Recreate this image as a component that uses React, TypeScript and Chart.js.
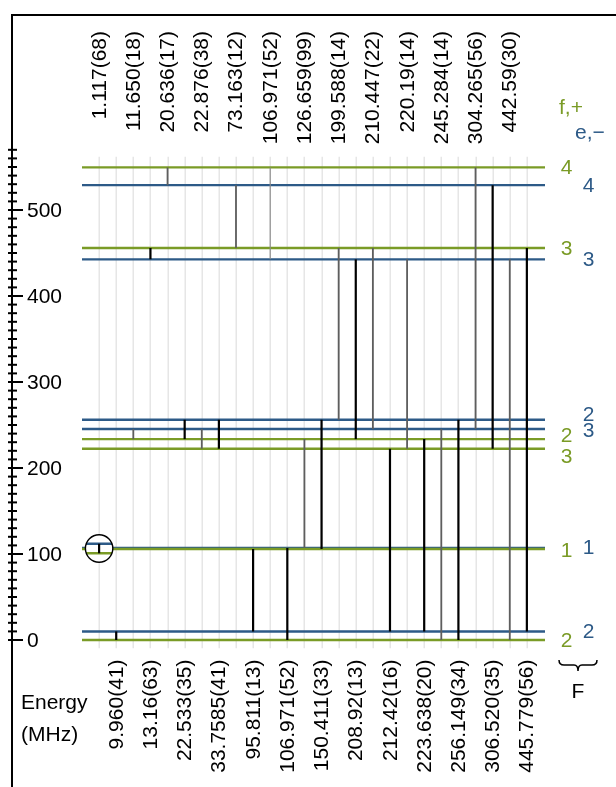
import React, { useEffect, useRef } from "react";
import { Chart, registerables } from "chart.js";

Chart.register(...registerables);

// ---------- data ----------
// f,+ parity levels (energy in MHz) and their F quantum numbers
const fEnergies = [0, 105.854, 222.38, 233.598, 455.737, 549.549];
const fLabels = ["2", "1", "3", "2", "3", "4"];
// e,− parity levels
const eEnergies = [9.96, 106.971, 245.284, 256.149, 442.59, 528.9];
const eLabels = ["2", "1", "3", "2", "3", "4"];

// transitions labelled at the top (even columns): indices into fEnergies / eEnergies
const topLabels = [
  "1.117(68)", "11.650(18)", "20.636(17)", "22.876(38)", "73.163(12)", "106.971(52)",
  "126.659(99)", "199.588(14)", "210.447(22)", "220.19(14)", "245.284(14)", "304.265(56)", "442.59(30)",
];
const topF = [1, 3, 5, 2, 4, 5, 3, 4, 4, 2, 0, 5, 0];
const topE = [1, 2, 5, 2, 5, 4, 1, 3, 2, 4, 2, 2, 4];

// transitions labelled at the bottom (odd columns)
const bottomLabels = [
  "9.960(41)", "13.16(63)", "22.533(35)", "33.7585(41)", "95.811(13)", "106.971(52)",
  "150.411(33)", "208.92(13)", "212.42(16)", "223.638(20)", "256.149(34)", "306.520(35)", "445.779(56)",
];
const bottomF = [0, 4, 3, 2, 1, 0, 1, 3, 2, 3, 0, 2, 4];
const bottomE = [0, 4, 3, 3, 0, 1, 3, 4, 0, 0, 3, 5, 0];

const yTickMin = 0;
const yTickMax = 570;
const yTickStep = 10;
const yLabelStep = 100;

// ---------- style ----------
const GREEN = "#7a9b26";
const BLUE = "#2d5a87";
const FONT = '"Liberation Sans", Arial, Helvetica, sans-serif';
const FS = 21;
const X_MIN = -1;
const X_MAX = 26.06;

export default function App() {
  const ref = useRef<HTMLCanvasElement>(null);

  useEffect(() => {
    const canvas = ref.current;
    if (!canvas) return;

    const datasets: any[] = [];
    fEnergies.forEach((E) =>
      datasets.push({
        data: [{ x: X_MIN, y: E }, { x: X_MAX, y: E }],
        borderColor: GREEN,
        borderWidth: 2.4,
        order: 3,
        clip: false,
      })
    );
    eEnergies.forEach((E) =>
      datasets.push({
        data: [{ x: X_MIN, y: E }, { x: X_MAX, y: E }],
        borderColor: BLUE,
        borderWidth: 2.4,
        order: 3,
        clip: false,
      })
    );
    topLabels.forEach((_, k) => {
      const light = k === 5;
      datasets.push({
        data: [
          { x: 2 * k, y: fEnergies[topF[k]] },
          { x: 2 * k, y: eEnergies[topE[k]] },
        ],
        borderColor: light ? "#8a8a8a" : "#5e5e5e",
        borderWidth: light ? 1.1 : 1.8,
        order: 2,
        clip: false,
      });
    });
    bottomLabels.forEach((_, k) => {
      datasets.push({
        data: [
          { x: 2 * k + 1, y: fEnergies[bottomF[k]] },
          { x: 2 * k + 1, y: eEnergies[bottomE[k]] },
        ],
        borderColor: "#000000",
        borderWidth: 2.2,
        order: 1,
        clip: false,
      });
    });

    const vtext = (ctx: CanvasRenderingContext2D, s: string, x: number, y: number) => {
      ctx.save();
      ctx.translate(x, y);
      ctx.rotate(-Math.PI / 2);
      ctx.textAlign = "right";
      ctx.textBaseline = "middle";
      ctx.fillText(s, 0, 0);
      ctx.restore();
    };

    const plugin = {
      id: "diagram",
      beforeDatasetsDraw(chart: any) {
        const ctx = chart.ctx as CanvasRenderingContext2D;
        const xs = chart.scales.x;
        const ys = chart.scales.y;
        ctx.save();
        ctx.strokeStyle = "#e6e6e6";
        ctx.lineWidth = 1.5;
        for (let i = 0; i < topLabels.length + bottomLabels.length; i++) {
          const x = Math.round(xs.getPixelForValue(i)) + 0.25;
          ctx.beginPath();
          ctx.moveTo(x, ys.getPixelForValue(562));
          ctx.lineTo(x, ys.getPixelForValue(-9.5));
          ctx.stroke();
        }
        ctx.restore();
      },
      afterDatasetsDraw(chart: any) {
        const ctx = chart.ctx as CanvasRenderingContext2D;
        const xs = chart.scales.x;
        const ys = chart.scales.y;
        ctx.save();

        // ---- magnified inset around the 1.117 MHz splitting ----
        const cx = xs.getPixelForValue(0);
        const fE = fEnergies[topF[0]];
        const eE = eEnergies[topE[0]];
        const Ec = (fE + eE) / 2;
        const cy = ys.getPixelForValue(Ec);
        const r = 13.7;
        const pxPerUnit = ys.getPixelForValue(0) - ys.getPixelForValue(1);
        const mag = 9.8;
        const yIn = (E: number) => cy - (E - Ec) * pxPerUnit * mag;
        ctx.beginPath();
        ctx.arc(cx, cy, r, 0, Math.PI * 2);
        ctx.fillStyle = "#ffffff";
        ctx.fill();
        ctx.save();
        ctx.beginPath();
        ctx.arc(cx, cy, r, 0, Math.PI * 2);
        ctx.clip();
        ctx.lineWidth = 2.4;
        ctx.strokeStyle = BLUE;
        ctx.beginPath();
        ctx.moveTo(cx - r, yIn(eE));
        ctx.lineTo(cx + r, yIn(eE));
        ctx.stroke();
        ctx.strokeStyle = GREEN;
        ctx.beginPath();
        ctx.moveTo(cx - r, yIn(fE));
        ctx.lineTo(cx + r, yIn(fE));
        ctx.stroke();
        ctx.strokeStyle = "#000";
        ctx.lineWidth = 2.2;
        ctx.beginPath();
        ctx.moveTo(cx, yIn(eE));
        ctx.lineTo(cx, yIn(fE));
        ctx.stroke();
        ctx.restore();
        ctx.beginPath();
        ctx.arc(cx, cy, r, 0, Math.PI * 2);
        ctx.strokeStyle = "#000";
        ctx.lineWidth = 1.4;
        ctx.stroke();

        // ---- frame / y axis ----
        ctx.strokeStyle = "#000";
        ctx.lineWidth = 2;
        ctx.beginPath();
        ctx.moveTo(12, 787);
        ctx.lineTo(12, 15);
        ctx.lineTo(616, 15);
        ctx.stroke();

        ctx.lineWidth = 2;
        for (let v = yTickMin; v <= yTickMax; v += yTickStep) {
          const y = ys.getPixelForValue(v);
          ctx.beginPath();
          ctx.moveTo(8, y);
          ctx.lineTo(v % yLabelStep === 0 ? 23 : 17, y);
          ctx.stroke();
        }
        ctx.fillStyle = "#000";
        ctx.font = `${FS}px ${FONT}`;
        ctx.textAlign = "left";
        ctx.textBaseline = "middle";
        for (let v = yTickMin; v <= yTickMax; v += yLabelStep) {
          ctx.fillText(String(v), 27, ys.getPixelForValue(v) + 1);
        }

        // ---- transition labels ----
        topLabels.forEach((s, k) => vtext(ctx, s, xs.getPixelForValue(2 * k) + 0.7, 31));
        bottomLabels.forEach((s, k) => vtext(ctx, s, xs.getPixelForValue(2 * k + 1) + 0.8, 659.5));

        // ---- Energy (MHz) ----
        ctx.textAlign = "left";
        ctx.textBaseline = "alphabetic";
        ctx.fillText("Energy", 21, 709);
        ctx.fillText("(MHz)", 21, 741);

        // ---- parity headers ----
        ctx.fillStyle = GREEN;
        ctx.fillText("f,+", 559, 114);
        ctx.fillStyle = BLUE;
        ctx.fillText("e,\u2212", 575, 139);

        // ---- F labels at right ----
        const fNudge = [0, 1, 7.7, -3.6, 0, 0];
        const eNudge = [0, -0.5, 1.4, -6, 0, 0];
        ctx.textAlign = "center";
        ctx.textBaseline = "middle";
        ctx.fillStyle = GREEN;
        fEnergies.forEach((E, i) => ctx.fillText(fLabels[i], 566.5, ys.getPixelForValue(E) + fNudge[i] + 1));
        ctx.fillStyle = BLUE;
        eEnergies.forEach((E, i) => ctx.fillText(eLabels[i], 588.5, ys.getPixelForValue(E) + eNudge[i] + 1));

        // ---- brace + F ----
        ctx.strokeStyle = "#000";
        ctx.lineWidth = 1.5;
        const bx0 = 559, bx1 = 597, by = 660, bm = (bx0 + bx1) / 2;
        ctx.beginPath();
        ctx.moveTo(bx0, by);
        ctx.quadraticCurveTo(bx0, by + 5, bx0 + 5, by + 5);
        ctx.lineTo(bm - 4, by + 5);
        ctx.quadraticCurveTo(bm, by + 5, bm, by + 11);
        ctx.quadraticCurveTo(bm, by + 5, bm + 4, by + 5);
        ctx.lineTo(bx1 - 5, by + 5);
        ctx.quadraticCurveTo(bx1, by + 5, bx1, by);
        ctx.stroke();
        ctx.fillStyle = "#000";
        ctx.textAlign = "center";
        ctx.textBaseline = "alphabetic";
        ctx.fillText("F", bm, 698);

        ctx.restore();
      },
    };

    const chart = new Chart(canvas, {
      type: "line",
      data: { datasets },
      options: {
        responsive: false,
        animation: false,
        devicePixelRatio: 1,
        layout: { padding: { left: 82, right: 71, top: 141.2, bottom: 129.8 } },
        scales: {
          x: { type: "linear", min: X_MIN, max: X_MAX, display: false },
          y: { type: "linear", min: -20, max: 580, display: false },
        },
        plugins: { legend: { display: false }, tooltip: { enabled: false } },
        elements: { point: { radius: 0 }, line: { tension: 0 } },
      },
      plugins: [plugin],
    } as any);
    return () => chart.destroy();
  }, []);

  return (
    <div style={{ position: "absolute", left: 0, top: 0, width: 616, height: 787, background: "#fff" }}>
      <canvas ref={ref} width={616} height={787} style={{ display: "block" }} />
    </div>
  );
}
